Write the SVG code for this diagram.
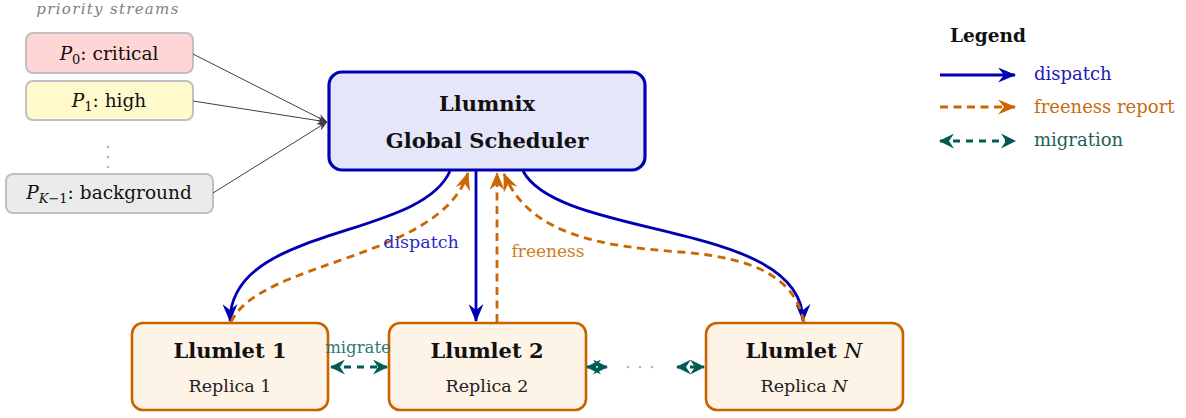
<svg xmlns="http://www.w3.org/2000/svg" width="1186" height="418" viewBox="0 0 1186 418">
<style>
  text { font-family: "DejaVu Serif", "Liberation Serif", serif; }
  .lbl { font-size: 18.5px; fill: #111; }
  .bold { font-weight: bold; font-size: 21px; fill: #111; }
  .sub { font-size: 17.5px; fill: #222; }
  .prio { stroke: #c0c0c0; stroke-width: 2; }
  .llumlet { fill: #fdf3e6; stroke: #c86400; stroke-width: 2.6; }
  .disp { fill: none; stroke: #0000b3; stroke-width: 2.8; }
  .free { fill: none; stroke: #cc6600; stroke-width: 2.8; stroke-dasharray: 8 5.5; }
  .mig { fill: none; stroke: #005a55; stroke-width: 2.8; stroke-dasharray: 7 6; }
  .gray { fill: none; stroke: #404040; stroke-width: 1; }
</style>
<defs>
  <marker id="hBlue" viewBox="0 0 18 15" refX="17" refY="7.5" markerWidth="18" markerHeight="15" markerUnits="userSpaceOnUse" orient="auto-start-reverse">
    <path d="M18,7.5 L0,0 L6,7.5 L0,15 z" fill="#0000b3"/>
  </marker>
  <marker id="hOrange" viewBox="0 0 18 15" refX="17" refY="7.5" markerWidth="18" markerHeight="15" markerUnits="userSpaceOnUse" orient="auto-start-reverse">
    <path d="M18,7.5 L0,0 L6,7.5 L0,15 z" fill="#cc6600"/>
  </marker>
  <marker id="hTeal" viewBox="0 0 15 15" refX="14" refY="7.5" markerWidth="15" markerHeight="15" markerUnits="userSpaceOnUse" orient="auto-start-reverse">
    <path d="M15,7.5 L0,0 L5,7.5 L0,15 z" fill="#005a55"/>
  </marker>
  <marker id="hGray" viewBox="0 0 10 8" refX="9.5" refY="4" markerWidth="10" markerHeight="8" markerUnits="userSpaceOnUse" orient="auto">
    <path d="M10,4 L0,0 L3,4 L0,8 z" fill="#404040"/>
  </marker>
</defs>

<text x="108" y="14" text-anchor="middle" font-style="italic" font-size="15" fill="#808080" letter-spacing="1.3">priority streams</text>

<g id="p0">
  <rect x="26" y="33" width="167" height="40" rx="7" class="prio" fill="#ffd5d5"/>
  <text x="109" y="60" text-anchor="middle" class="lbl"><tspan font-style="italic">P</tspan><tspan font-size="13" dy="4">0</tspan><tspan dy="-4">:</tspan><tspan dx="6">critical</tspan></text>
</g>
<g id="p1">
  <rect x="26" y="81" width="167" height="39" rx="7" class="prio" fill="#fff9cc"/>
  <text x="109" y="107" text-anchor="middle" class="lbl"><tspan font-style="italic">P</tspan><tspan font-size="13" dy="4">1</tspan><tspan dy="-4">:</tspan><tspan dx="6">high</tspan></text>
</g>
<g id="pdots" fill="#b8b8b8">
  <circle cx="108" cy="147" r="1.3"/>
  <circle cx="108" cy="157" r="1.3"/>
  <circle cx="108" cy="167" r="1.3"/>
</g>
<g id="pk1">
  <rect x="6" y="174" width="207" height="39" rx="7" class="prio" fill="#ebebeb"/>
  <text x="109" y="199" text-anchor="middle" class="lbl"><tspan font-style="italic">P</tspan><tspan font-size="13" dy="4" font-style="italic">K</tspan><tspan font-size="13">−1</tspan><tspan dy="-4">:</tspan><tspan dx="6">background</tspan></text>
</g>

<g id="scheduler">
  <rect x="329" y="72" width="316" height="98" rx="13" fill="#e6e6fa" stroke="#0000b3" stroke-width="3.2"/>
  <text x="487" y="111" text-anchor="middle" class="bold">Llumnix</text>
  <text x="487" y="148" text-anchor="middle" class="bold">Global Scheduler</text>
</g>

<g id="llumlet1">
  <rect x="132" y="323" width="196" height="87" rx="11" class="llumlet"/>
  <text x="230" y="358" text-anchor="middle" class="bold">Llumlet 1</text>
  <text x="230" y="392" text-anchor="middle" class="sub">Replica 1</text>
</g>
<g id="llumlet2">
  <rect x="389" y="323" width="197" height="87" rx="11" class="llumlet"/>
  <text x="487" y="358" text-anchor="middle" class="bold">Llumlet 2</text>
  <text x="487" y="392" text-anchor="middle" class="sub">Replica 2</text>
</g>
<g id="llumletN">
  <rect x="706" y="323" width="197" height="87" rx="11" class="llumlet"/>
  <text x="804" y="358" text-anchor="middle" class="bold">Llumlet <tspan font-style="italic" font-weight="normal">N</tspan></text>
  <text x="804" y="392" text-anchor="middle" class="sub">Replica <tspan font-style="italic">N</tspan></text>
</g>

<g id="connectors">
  <line x1="193" y1="54" x2="327" y2="122" class="gray" marker-end="url(#hGray)"/>
  <line x1="193" y1="101" x2="327" y2="122" class="gray" marker-end="url(#hGray)"/>
  <line x1="213" y1="193" x2="327" y2="122" class="gray" marker-end="url(#hGray)"/>

  <path d="M450,171 C420,240 230,225 230,321" class="disp" marker-end="url(#hBlue)"/>
  <line x1="476" y1="171" x2="476" y2="321" class="disp" marker-end="url(#hBlue)"/>
  <path d="M523,171 C560,240 803,220 803,321" class="disp" marker-end="url(#hBlue)"/>

  <path d="M231,322 C260,260 440,260 468,173" class="free" marker-end="url(#hOrange)"/>
  <line x1="497" y1="322" x2="497" y2="173" class="free" marker-end="url(#hOrange)"/>
  <path d="M804,322 C795,280 760,258 680,252 C600,246 530,235 504,174" class="free" marker-end="url(#hOrange)"/>

  <line x1="331" y1="367" x2="387" y2="367" class="mig" marker-start="url(#hTeal)" marker-end="url(#hTeal)"/>
  <line x1="587" y1="367" x2="607" y2="367" class="mig" marker-start="url(#hTeal)" marker-end="url(#hTeal)"/>
  <line x1="677" y1="367" x2="704" y2="367" class="mig" marker-start="url(#hTeal)" marker-end="url(#hTeal)"/>
  <g fill="#b5b5b5">
    <circle cx="628" cy="367" r="1.3"/>
    <circle cx="640" cy="367" r="1.3"/>
    <circle cx="652" cy="367" r="1.3"/>
  </g>

  <text x="421" y="248" text-anchor="middle" font-size="17.5" fill="#2a2ac8">dispatch</text>
  <text x="548" y="257" text-anchor="middle" font-size="17" fill="#d07a20">freeness</text>
  <text x="358" y="353" text-anchor="middle" font-size="16.5" fill="#2d7a72">migrate</text>
</g>

<g id="legend">
  <text x="950" y="42" font-weight="bold" font-size="18.5" fill="#111">Legend</text>
  <line x1="940" y1="75" x2="1015" y2="75" class="disp" marker-end="url(#hBlue)"/>
  <text x="1034" y="80" font-size="18" fill="#1a1ab8">dispatch</text>
  <line x1="940" y1="107" x2="1015" y2="107" class="free" marker-end="url(#hOrange)"/>
  <text x="1034" y="113" font-size="18" fill="#c86a10">freeness report</text>
  <line x1="940" y1="141" x2="1015" y2="141" class="mig" marker-start="url(#hTeal)" marker-end="url(#hTeal)"/>
  <text x="1034" y="146" font-size="18" fill="#1e5f5a">migration</text>
</g>
</svg>
